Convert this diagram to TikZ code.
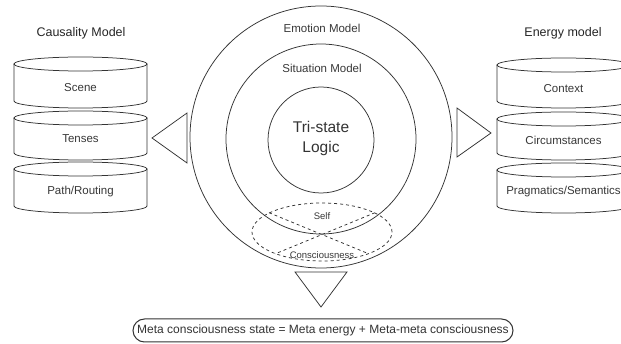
\documentclass[tikz,border=0pt]{standalone}
\usepackage{fontspec}
\setmainfont{Liberation Sans}
\usetikzlibrary{shapes.geometric,shapes.misc}
\tikzset{
  ln/.style={draw=black!80, line width=0.75pt},
  lbl/.style={font=\fontsize{11.5}{13}\selectfont, text=black!78, inner sep=0pt},
  head/.style={font=\fontsize{12.5}{14}\selectfont, text=black!85, inner sep=0pt},
  small/.style={font=\fontsize{9.5}{11}\selectfont, text=black!78, inner sep=0pt},
  ring/.style={ln, circle, inner sep=0pt},
}
\newcommand{\mycyl}[4]{% cx, top, bottom, rx
  \draw[ln, fill=white] (#1,#2+7) ellipse [x radius=#4pt, y radius=7pt];
  \draw[ln] (#1-#4,#2+7) -- (#1-#4,#3-7) arc [start angle=180, end angle=360, x radius=#4pt, y radius=7pt] -- (#1+#4,#2+7);
}
\begin{document}
\begin{tikzpicture}[x=1pt,y=-1pt]
\useasboundingbox (0,0) rectangle (621,344);
\fill[white] (0,0) rectangle (621,344);

% left cylinders
\node[head] (causal) at (81,33) {Causality Model};
\mycyl{80.5}{57}{108}{66.5}
\mycyl{80.5}{111}{160}{66.5}
\mycyl{80.5}{162}{213}{66.5}
\node[lbl] (scene) at (80.5,88) {Scene};
\node[lbl] (tenses) at (80.5,139) {Tenses};
\node[lbl] (path) at (80.5,192) {Path/Routing};

% right cylinders
\node[head] (energy) at (563,33) {Energy model};
\mycyl{563.5}{58}{108}{66.5}
\mycyl{563.5}{112}{160}{66.5}
\mycyl{563.5}{163}{213}{66.5}
\node[lbl] (context) at (563.5,89) {Context};
\node[lbl] (circ) at (563.5,140) {Circumstances};
\node[lbl] (prag) at (563.5,192) {Pragmatics/Semantics};

% circles
\node[ring, minimum size=262pt] (outer) at (321,137) {};
\node[ring, minimum size=190pt] (middle) at (321,139) {};
\node[ring, minimum size=106pt] (inner) at (321,140) {};
\node[lbl] (emotion) at (322,28) {Emotion Model};
\node[lbl] (situation) at (322,68) {Situation Model};
\node[inner sep=0pt, text=black!80, align=center, font=\fontsize{15.5}{20}\selectfont] (tri) at (321,138) {Tri-state\\Logic};

% self / consciousness
\node[ln, dashed, ellipse, inner sep=0pt, minimum width=140pt, minimum height=58pt] (selfell) at (322,232) {};
\draw[ln, dashed] (selfell.160) -- (selfell.335);
\draw[ln, dashed] (selfell.20) -- (selfell.205);
\node[small] (self) at (322,216) {Self};
\node[small] (consc) at (322,255) {Consciousness};

% triangles
\draw[ln] (187,113) -- (187,163) -- (152,138) -- cycle;
\draw[ln] (457,108) -- (457,157) -- (491,133) -- cycle;
\draw[ln] (295,272) -- (347,272) -- (321,307) -- cycle;

% equation
\node[ln, line width=1pt, rounded rectangle, inner sep=0pt, minimum width=380pt, minimum height=23pt, font=\fontsize{12}{14}\selectfont, text=black!80] (eq) at (323,330.5) {Meta consciousness state = Meta energy + Meta-meta consciousness};
\end{tikzpicture}
\end{document}
